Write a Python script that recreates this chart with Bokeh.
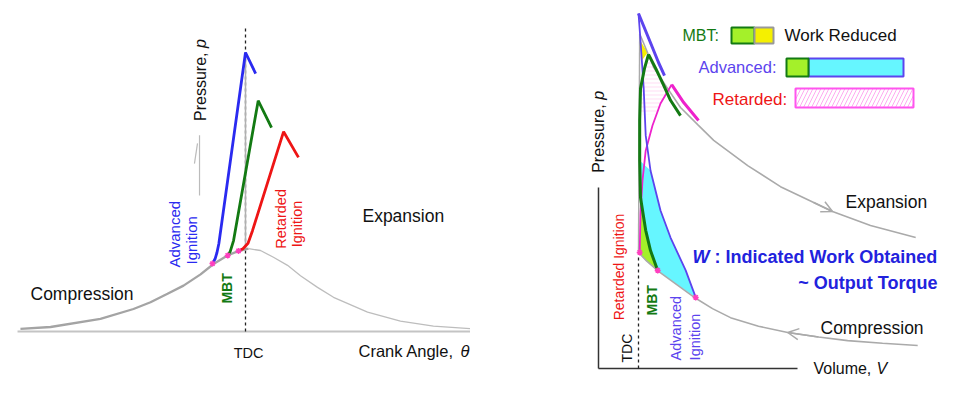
from bokeh.plotting import figure
from bokeh.layouts import row
from bokeh.models import Range1d, Arrow, OpenHead
from bokeh.core.properties import value
from bokeh.embed import file_html
from bokeh.resources import INLINE
import math

FONT = "Liberation Sans"

# ================= LEFT PANEL DATA: crank angle (deg) vs pressure =================
motored_comp_theta = [-177.2, -153.5, -114.2, -88.2, -74.8, -61.4, -48.8, -35.4, -25.2, -14.2, -6.3, 2.4]
motored_comp_p     = [0.6, 1.0, 2.8, 5.0, 6.5, 8.4, 10.2, 12.7, 15.0, 16.9, 17.8, 18.4]
motored_exp_theta  = [2.4, 11.8, 22.0, 33.1, 43.3, 56.7, 69.3, 96.1, 122.0, 148.0, 179.5]
motored_exp_p      = [18.4, 18.0, 16.5, 14.7, 12.4, 9.8, 7.6, 4.3, 2.3, 1.2, 0.6]

adv_theta = [-26.0, -24.0, -22.5, -21.0, 0.0, 8.0]
adv_p     = [15.1, 16.1, 17.5, 19.5, 62.0, 57.3]
mbt_theta = [-14.0, -12.0, -9.4, 10.0, 20.5]
mbt_p     = [16.9, 17.8, 20.2, 51.3, 45.3]
ret_theta = [-5.5, -2.0, 2.0, 5.5, 30.0, 41.7]
ret_p     = [17.9, 18.4, 19.6, 22.4, 44.4, 38.7]

ign_theta = [-26.0, -14.0, -5.5]
ign_p     = [15.1, 16.9, 17.9]

# ================= RIGHT PANEL DATA: volume vs pressure =================
expn_V = [1.03, 1.38, 1.73, 2.05, 2.48, 2.88, 3.73, 4.55, 5.38, 5.85, 6.80, 7.93]
expn_p = [74.4, 66.9, 62.2, 58.0, 54.2, 50.7, 45.1, 40.4, 36.9, 34.9, 31.8, 29.1]
comp_V = [1.0, 1.2, 1.5, 2.43, 2.85, 3.3, 4.0, 4.73, 5.5, 6.23, 7.1, 7.98]
comp_p = [25.8, 23.9, 21.6, 15.6, 13.3, 11.3, 9.4, 8.0, 7.0, 6.2, 5.6, 5.1]
tdc_V = [1.0, 1.03]
tdc_p = [25.8, 74.4]

advc_V = [2.43, 2.18, 1.8, 1.55, 1.3, 1.18, 1.13, 1.05, 1.0]
advc_p = [15.8, 21.8, 29.1, 35.1, 44.0, 51.8, 62.2, 72.9, 78.9]
adve_V = [1.0, 1.3, 1.5, 1.65]
adve_p = [78.9, 72.4, 68.0, 65.1]

mbtc_V = [1.48, 1.3, 1.18, 1.05, 1.03, 1.03, 1.05, 1.15, 1.25]
mbtc_p = [21.8, 26.2, 30.7, 38.0, 46.2, 55.1, 62.2, 66.7, 69.8]
mbte_V = [1.25, 1.43, 1.63, 1.8, 2.05]
mbte_p = [69.8, 66.7, 62.9, 59.6, 56.2]

retc_V = [1.03, 1.05, 1.1, 1.18, 1.35, 1.55, 1.83]
retc_p = [25.8, 34.4, 41.8, 48.4, 54.0, 58.9, 63.1]
rete_V = [1.83, 2.13, 2.5]
rete_p = [63.1, 59.1, 55.1]

ignR_V = [1.03, 1.48, 2.43]
ignR_p = [25.8, 21.8, 15.8]

# fill regions (vertices)
cyan_V = [1.48, 1.3, 1.18, 1.05, 1.03, 1.3, 1.55, 1.8, 2.18, 2.43, 1.5]
cyan_p = [21.8, 26.2, 30.7, 38.0, 46.2, 44.0, 35.1, 29.1, 21.8, 15.8, 21.6]
lime_V = [1.03, 1.05, 1.06, 1.18, 1.3, 1.48, 1.2, 1.03]
lime_p = [25.8, 34.4, 37.5, 30.7, 26.2, 21.8, 23.9, 25.6]
yel_V = [1.04, 1.23, 1.08]
yel_p = [72.9, 70.2, 68.4]
hatch_V = [1.25, 1.43, 1.63, 1.71, 1.55, 1.45, 1.03, 1.03, 1.05, 1.15]
hatch_p = [69.8, 66.7, 62.9, 61.3, 58.9, 56.5, 56.5, 58.0, 62.2, 66.7]

# ================= styling / layout =================
W1, W2, H = 470, 471, 378
BLUE = "#2a2af0"
PURP = "#5c44ee"
GREEN = "#137a13"
RED = "#ee1515"
MAG = "#ee22cc"
STAR = "#ff3fbf"
GRAY = "#aaaaaa"
OX, OY = 0, 0   # page position of the first figure's top-left corner


def make_fig(w, x0, x1, y0, y1):
    f = figure(width=w, height=H, x_range=Range1d(x0, x1), y_range=Range1d(y0, y1),
               output_backend="svg", toolbar_location=None, min_border=0,
               x_axis_location=None, y_axis_location=None)
    f.grid.visible = False
    f.outline_line_color = None
    return f


def txt(f, x, y, s, size, color="#111111", align="left", base="middle", angle=0.0, style="normal"):
    f.text(x=[x], y=[y], text=[s], angle=angle, text_font=value(FONT),
           text_font_size=size, text_color=color, text_align=align,
           text_baseline=base, text_font_style=style)


# left mapping: page px = 245 + 1.27*theta ; page py = 331 - 4.5*p
SX, SY = 1.27, 4.5
lx0 = (OX - 245) / SX
ly1 = (331 - OY) / SY
p1 = make_fig(W1, lx0, lx0 + W1 / SX, ly1 - H / SY, ly1)

p1.line([-179.5, 181.0], [0, 0], line_color="#c4c4c4", line_width=2)
p1.line([0, 0], [0, 67.6], line_color="#222222", line_width=1.3, line_dash="3 3")
p1.line([0, 0], [18.4, 62.0], line_color="#b0b0b0", line_width=1.5)
p1.line(motored_comp_theta, motored_comp_p, line_color="#a4a4a4", line_width=2.3)
p1.line(motored_exp_theta, motored_exp_p, line_color="#bdbdbd", line_width=1.3)
p1.line(adv_theta, adv_p, line_color=BLUE, line_width=2.8)
p1.line(mbt_theta, mbt_p, line_color=GREEN, line_width=2.8)
p1.line(ret_theta, ret_p, line_color=RED, line_width=2.8)
p1.scatter(ign_theta, ign_p, marker="asterisk", size=6, line_color=STAR, line_width=1.5)

p1.line([-36.2, -36.2], [43.6, 30.2], line_color="#bbbbbb", line_width=1.2)
p1.line([-40.2, -37.8], [37.3, 41.8], line_color="#bbbbbb", line_width=1.2)

R = math.pi / 2
txt(p1, -35.4, 62.0, "Pressure,", "16px", align="right", angle=R)
txt(p1, -35.4, 63.0, "p", "16px", align="left", angle=R, style="italic")
txt(p1, -55.9, 14.2, "Advanced", "15px", BLUE, angle=R)
txt(p1, -42.5, 14.9, "Ignition", "15px", BLUE, angle=R)
txt(p1, -14.2, 6.2, "MBT", "14px", GREEN, angle=R, style="bold")
txt(p1, 27.6, 18.4, "Retarded", "14.5px", RED, angle=R)
txt(p1, 40.9, 18.7, "Ignition", "14.5px", RED, angle=R)
txt(p1, 92.1, 25.6, "Expansion", "17.5px")
txt(p1, -169.3, 8.4, "Compression", "17.5px")
txt(p1, 2.4, -4.7, "TDC", "14.5px", align="center")
txt(p1, 89.0, -4.4, "Crank Angle,", "16.5px")
txt(p1, 169.3, -4.4, "\u03b8", "16.5px", style="italic")

# right mapping: page px = 598 + 40*V ; page py = 368 - 4.5*p
RX, RY = 40.0, 4.5
rx0 = (OX + W1 - 598) / RX
ry1 = (368 - OY) / RY
p2 = make_fig(W2, rx0, rx0 + W2 / RX, ry1 - H / RY, ry1)

p2.patch(cyan_V, cyan_p, fill_color="#66f6ff", line_color=None)
p2.patch(lime_V, lime_p, fill_color="#a4f02a", line_color=None)
p2.patch(yel_V, yel_p, fill_color="#f5f000", line_color=None)
p2.patch(hatch_V, hatch_p, fill_color=None, line_color=None, hatch_pattern="-",
         hatch_color="#ffc8ee", hatch_scale=4, hatch_weight=0.8, hatch_alpha=0.8)

p2.line([0, 0], [0, 40.2], line_color="#333333", line_width=1.5)
p2.line([0, 4.975], [0, 0], line_color="#333333", line_width=1.5)
p2.line([1.0, 1.0], [0, 25.0], line_color="#222222", line_width=1.3, line_dash="3 3")

p2.line(tdc_V, tdc_p, line_color=GRAY, line_width=1.5)
p2.line(expn_V, expn_p, line_color=GRAY, line_width=1.6)
p2.line(comp_V, comp_p, line_color=GRAY, line_width=1.6)
p2.add_layout(Arrow(end=OpenHead(size=11, line_color=GRAY, line_width=1.5),
                    x_start=5.38, y_start=36.9, x_end=5.85, y_end=34.9,
                    line_color=GRAY, line_width=1.5))
p2.add_layout(Arrow(end=OpenHead(size=11, line_color=GRAY, line_width=1.5),
                    x_start=5.5, y_start=7.0, x_end=4.73, y_end=8.0,
                    line_color=GRAY, line_width=1.5))

p2.line(retc_V, retc_p, line_color=MAG, line_width=1.8)
p2.line(rete_V, rete_p, line_color=MAG, line_width=3)
p2.line(advc_V, advc_p, line_color=PURP, line_width=1.8)
p2.line(adve_V, adve_p, line_color=PURP, line_width=3)
p2.line(mbtc_V, mbtc_p, line_color=GREEN, line_width=3)
p2.line(mbte_V, mbte_p, line_color=GREEN, line_width=3)
p2.scatter(ignR_V, ignR_p, marker="asterisk", size=6, line_color=STAR, line_width=1.5)

p2.quad(left=[3.325], right=[3.9], top=[75.8], bottom=[72.2], fill_color="#a4f02a", line_color=GREEN, line_width=2)
p2.quad(left=[3.9], right=[4.375], top=[75.8], bottom=[72.2], fill_color="#f5f000", line_color="#999999", line_width=2)
p2.quad(left=[5.25], right=[7.625], top=[68.9], bottom=[64.9], fill_color="#66f6ff", line_color=PURP, line_width=2)
p2.quad(left=[4.7], right=[5.25], top=[68.9], bottom=[64.9], fill_color="#a4f02a", line_color=GREEN, line_width=2)
p2.quad(left=[4.925], right=[7.875], top=[62.2], bottom=[58.0], fill_color=None, line_color="#ff55ee",
        line_width=2, hatch_pattern="/", hatch_color="#ffaaf0", hatch_scale=8, hatch_weight=1)

txt(p2, 2.1, 74.0, "MBT:", "16px", GREEN)
txt(p2, 4.65, 74.0, "Work Reduced", "17px")
txt(p2, 2.5, 66.9, "Advanced:", "16.5px", PURP)
txt(p2, 2.85, 59.8, "Retarded:", "17px", RED)
txt(p2, 6.175, 36.9, "Expansion", "17.5px")
txt(p2, 2.35, 24.7, "W", "18px", "#2222dd", style="bold italic")
txt(p2, 2.9, 24.7, ": Indicated Work Obtained", "18px", "#2222dd", style="bold")
txt(p2, 8.475, 18.9, "~ Output Torque", "18px", "#2222dd", align="right", style="bold")
txt(p2, 5.55, 8.9, "Compression", "17.5px")
txt(p2, 5.375, 0.0, "Volume,", "16px")
txt(p2, 6.95, 0.0, "V", "16px", style="italic")

txt(p2, 0.0, 58.7, "Pressure,", "16px", align="right", angle=R)
txt(p2, 0.0, 59.7, "p", "16px", align="left", angle=R, style="italic")
txt(p2, 0.7, 1.33, "TDC", "14px", angle=R)
txt(p2, 0.5, 10.7, "Retarded Ignition", "14px", RED, angle=R)
txt(p2, 1.325, 11.8, "MBT", "14px", GREEN, angle=R, style="bold")
txt(p2, 1.94, 1.8, "Advanced", "14.5px", PURP, angle=R)
txt(p2, 2.4, 1.8, "Ignition", "14.5px", PURP, angle=R)

layout = row(p1, p2)
open("out.html", "w").write(file_html(layout, INLINE))
